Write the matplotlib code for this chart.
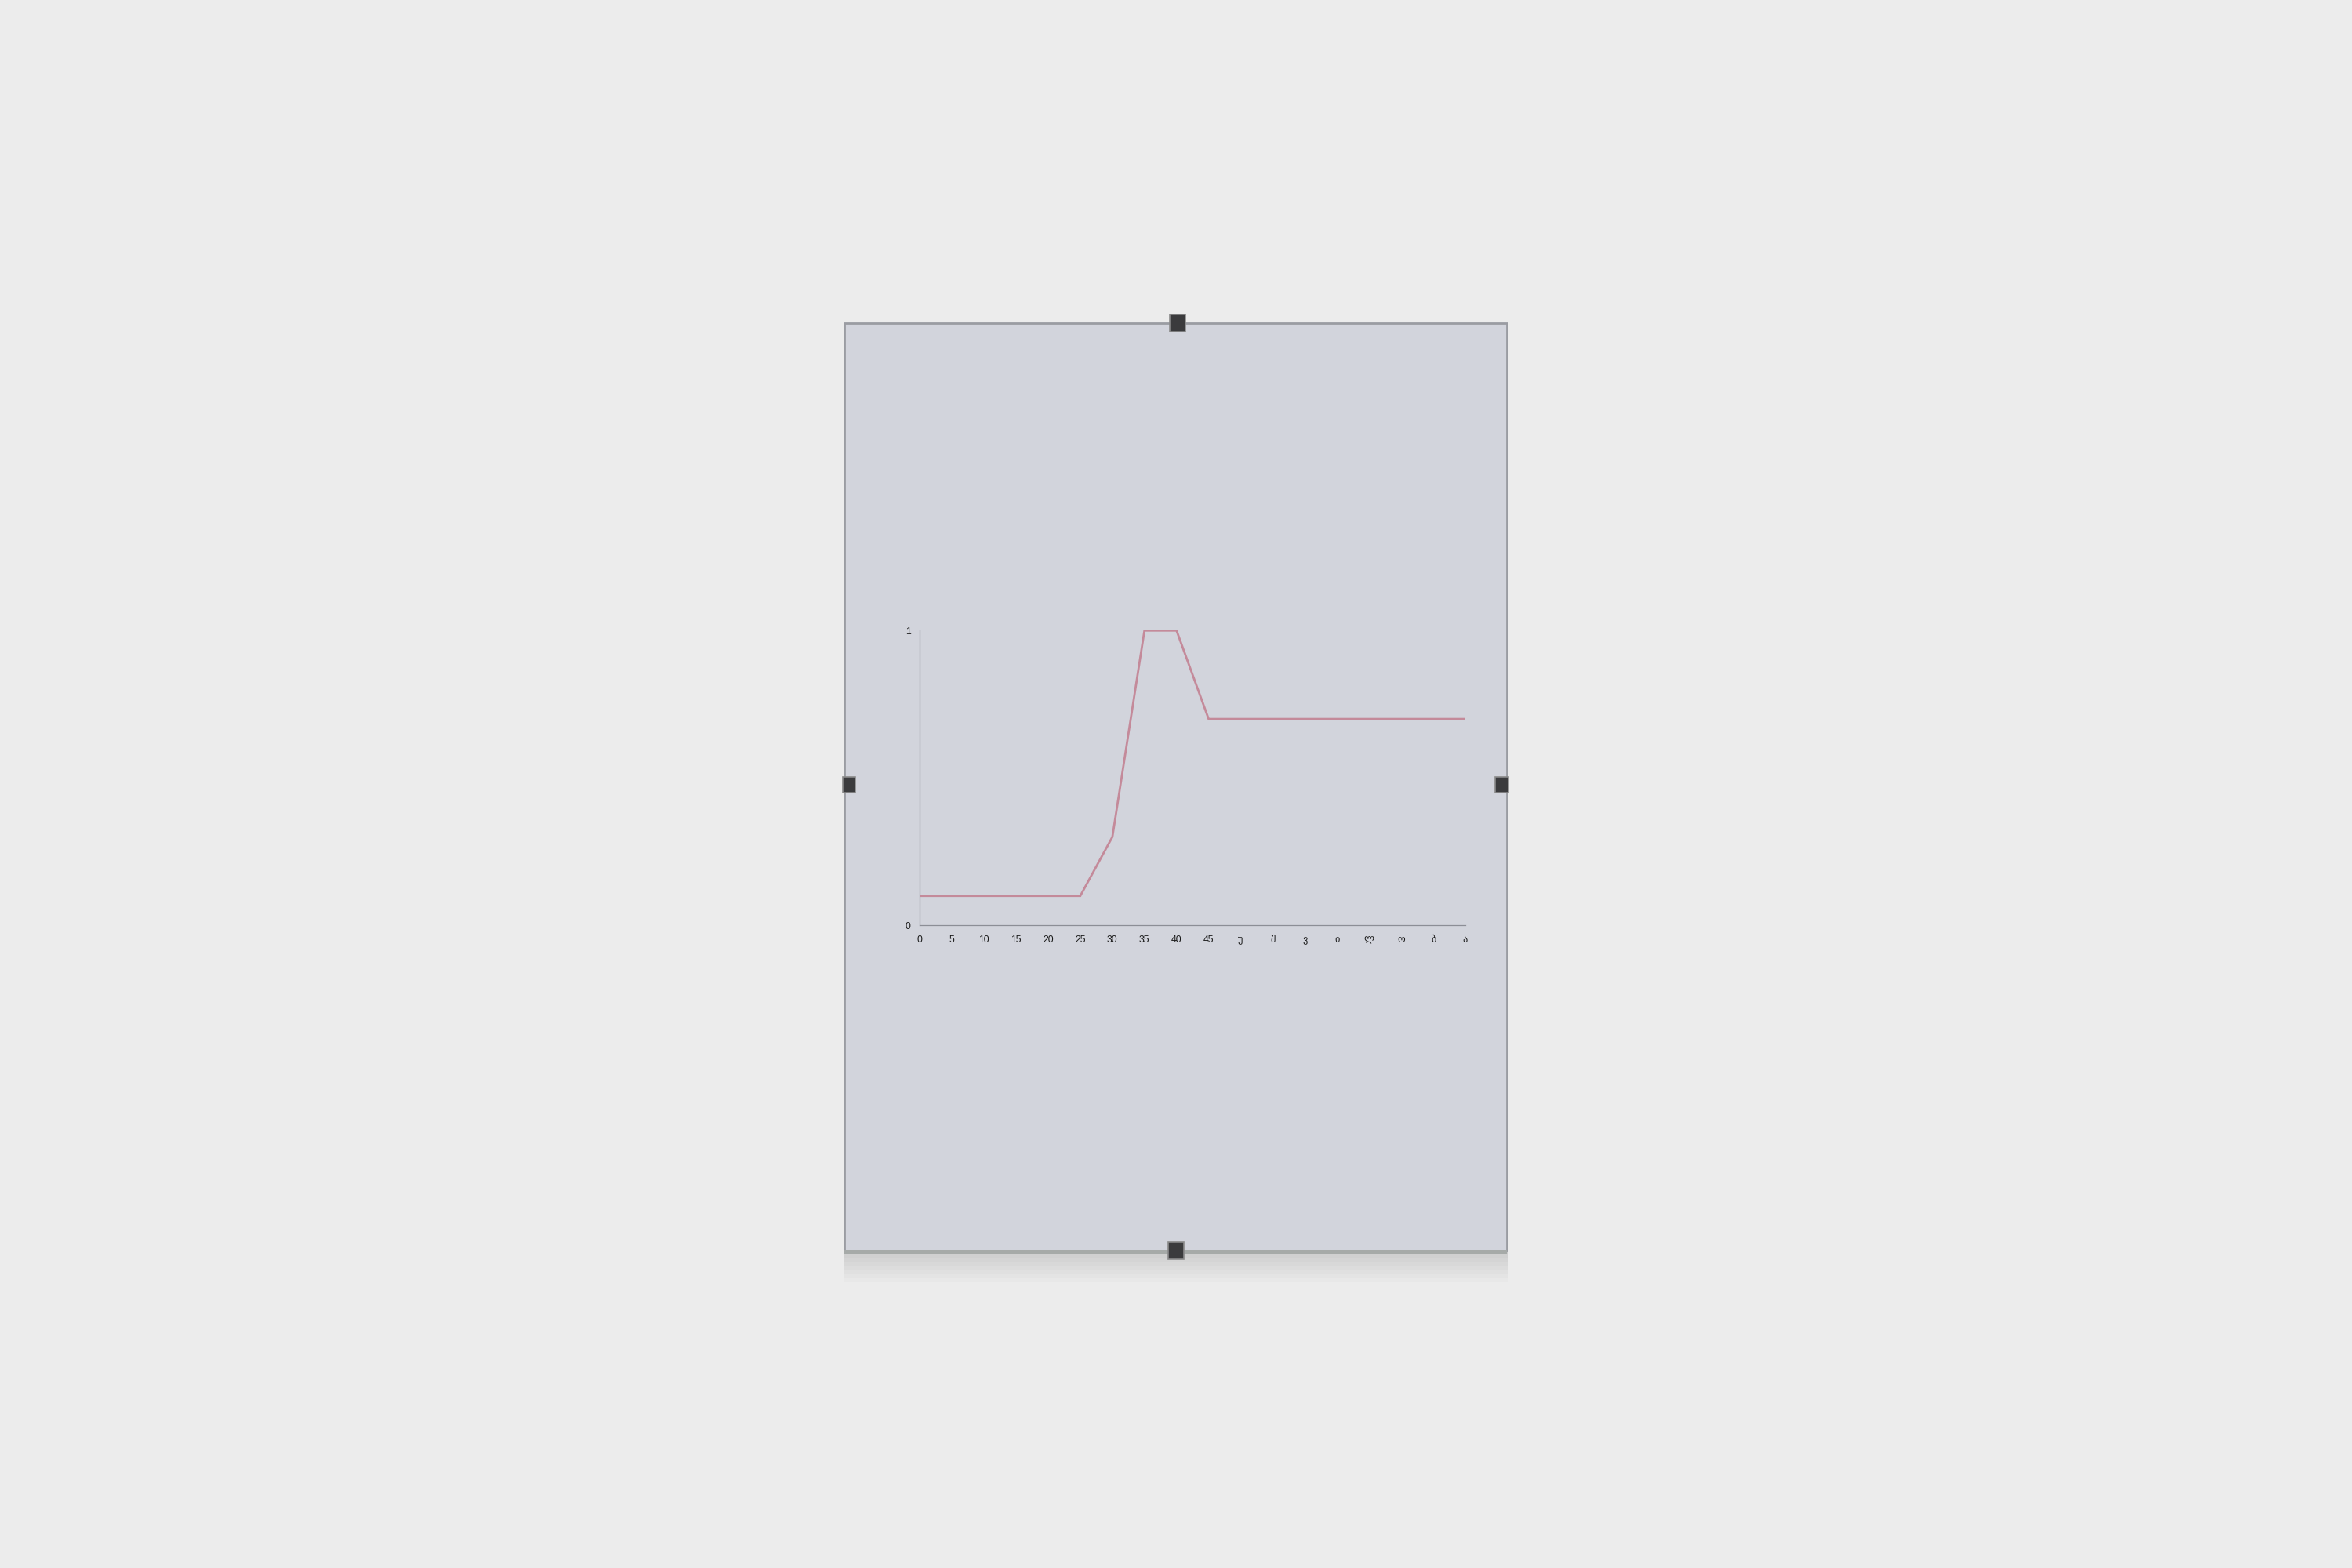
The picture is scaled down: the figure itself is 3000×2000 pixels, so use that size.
import matplotlib
matplotlib.use("Agg")
import matplotlib.pyplot as plt
from matplotlib.patches import Rectangle

# ---- data ----
ages = [0, 5, 10, 15, 20, 25, 30, 35, 40, 45, 50, 55, 60, 65, 70, 75, 80, 85]
values = [0.10, 0.10, 0.10, 0.10, 0.10, 0.10, 0.30, 1.00, 1.00, 0.70,
          0.70, 0.70, 0.70, 0.70, 0.70, 0.70, 0.70, 0.70]
x_tick_labels = ["0", "5", "10", "15", "20", "25", "30", "35", "40", "45",
                 "უ", "შ", "ვ", "ი", "ლ", "ო", "ბ", "ა"]
y_ticks = [0, 1]
y_tick_labels = ["0", "1"]

plt.rcParams['font.family'] = ['Liberation Sans', 'DejaVu Sans']

WALL = "#ececec"
PAPER = "#d2d4dc"
LINE = "#c48a9a"
SPINE = "#8c8e96"

fig = plt.figure(figsize=(30, 20), dpi=100, facecolor=WALL)

# soft shadow of the frame on the wall
for i in range(8):
    off = 0.002 + i * 0.0025
    fig.patches.append(Rectangle((0.359, 0.202 - off), 0.282, 0.594,
                                 transform=fig.transFigure, facecolor="#000000",
                                 alpha=0.016, edgecolor="none", zorder=0))

# paper behind glass
fig.patches.append(Rectangle((0.359, 0.2025), 0.2815, 0.5915,
                             transform=fig.transFigure, facecolor=PAPER,
                             edgecolor="#9a9ca2", linewidth=2.0, zorder=1))
# thicker glass edge at bottom
fig.patches.append(Rectangle((0.359, 0.2005), 0.2815, 0.0025,
                             transform=fig.transFigure, facecolor="#a6aaa8",
                             edgecolor="none", zorder=1))

# clips
clip_w, clip_h = 0.0067, 0.011
for cx, cy, w, h in [(0.5007, 0.794, clip_w, clip_h),
                     (0.5000, 0.2025, clip_w, clip_h),
                     (0.3610, 0.4995, clip_w * 0.8, clip_h * 0.9),
                     (0.6385, 0.4995, clip_w * 0.8, clip_h * 0.9)]:
    fig.patches.append(Rectangle((cx - w / 2, cy - h / 2), w, h,
                                 transform=fig.transFigure, facecolor="#3b3b3d",
                                 edgecolor="#8a8a8a", linewidth=1.2, zorder=2))

ax = fig.add_axes([0.3911, 0.40985, 0.2319, 0.1880])
ax.set_zorder(5)
ax.set_facecolor("none")
ax.plot(ages, values, color=LINE, linewidth=2.0, solid_joinstyle="miter",
        solid_capstyle="butt", zorder=3)

ax.set_xlim(0, 85)
ax.set_ylim(0, 1)
ax.set_xticks(ages)
ax.set_xticklabels(x_tick_labels)
ax.set_yticks(y_ticks)
ax.set_yticklabels(y_tick_labels)

for s in ["top", "right"]:
    ax.spines[s].set_visible(False)
for s in ["left", "bottom"]:
    ax.spines[s].set_color(SPINE)
    ax.spines[s].set_linewidth(0.9)

ax.tick_params(axis="x", length=0, labelsize=8.8, pad=9, colors="#1a1a1a")
ax.tick_params(axis="y", length=0, labelsize=8.8, pad=8.5, colors="#1a1a1a")

fig.savefig("out.png", dpi=100, facecolor=WALL)
